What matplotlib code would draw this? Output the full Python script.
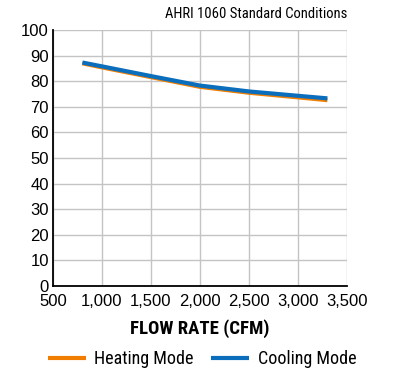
import matplotlib.pyplot as plt

flow_cfm = [800, 1000, 1500, 2000, 2500, 3000, 3300]
heating = [87.0, 85.4, 81.6, 77.8, 75.5, 73.7, 72.6]
cooling = [87.3, 85.8, 82.0, 78.3, 76.0, 74.3, 73.3]

x_ticks = [500, 1000, 1500, 2000, 2500, 3000, 3500]
y_ticks = list(range(0, 101, 10))

cond = ['Roboto Condensed', 'DejaVu Sans']
plt.rcParams['font.family'] = ['Liberation Sans', 'DejaVu Sans']

fig = plt.figure(figsize=(4, 3.8), dpi=100)
ax = fig.add_axes([0.1325, 0.2474, 0.735, 0.6736])

ax.plot(flow_cfm, heating, color='#F07D00', lw=3, solid_capstyle='butt', label='Heating Mode')
ax.plot(flow_cfm, cooling, color='#0A6EBD', lw=3, solid_capstyle='butt', label='Cooling Mode')

ax.set_xlim(500, 3500)
ax.set_ylim(0, 100)
ax.set_xticks(x_ticks)
ax.set_xticklabels([f"{v:,}" for v in x_ticks])
ax.set_yticks(y_ticks)
ax.tick_params(length=0, labelsize=12)
ax.tick_params(axis='x', pad=6)
ax.tick_params(axis='y', pad=3)
ax.grid(True, color='#c4c4c4', lw=1)
ax.set_axisbelow(True)
for s in ['top', 'right']:
    ax.spines[s].set_visible(False)
for s in ['left', 'bottom']:
    ax.spines[s].set_color('black')
    ax.spines[s].set_linewidth(1.3)

ax.set_xlabel("FLOW RATE (CFM)", fontsize=13.5, fontweight='bold', family=cond, labelpad=7)
fig.text(0.8675, 0.963, "AHRI 1060 Standard Conditions", ha='right', va='center',
         fontsize=10.5, family=cond)

fig.legend(loc='center', bbox_to_anchor=(0.505, 0.055), ncol=2, frameon=False,
           prop={'family': cond, 'size': 13}, handlelength=2.1, columnspacing=1.0,
           handletextpad=0.45)

fig.savefig('out.png', dpi=100)
